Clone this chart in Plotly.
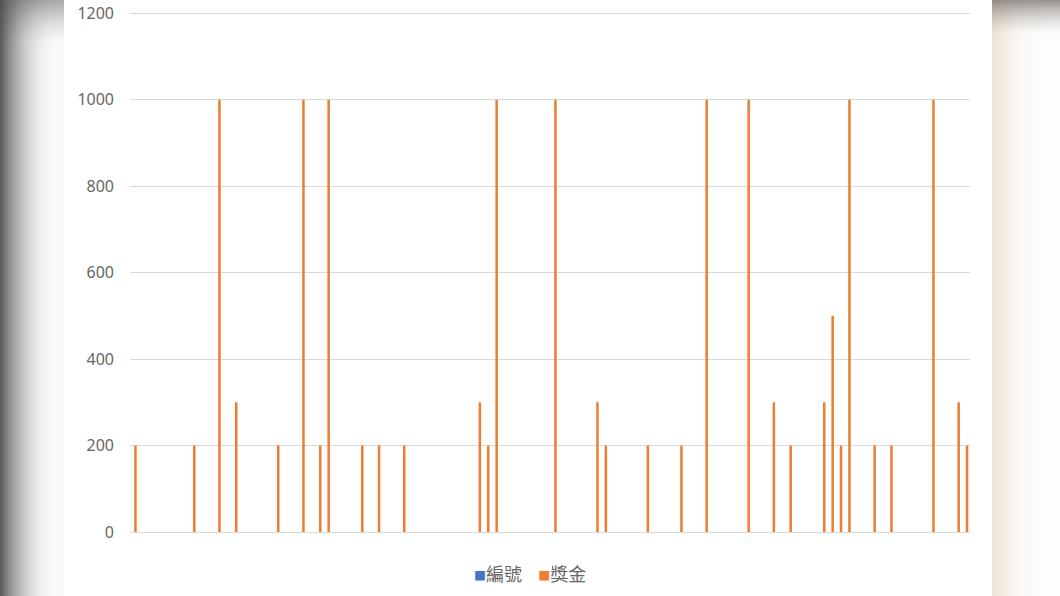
import plotly.graph_objects as go

# 編號 1..100, 獎金 per number (blank = no prize)
numbers = list(range(1, 101))
prize_numbers = [1, 8, 11, 13, 18, 21, 23, 24, 28, 30, 33, 42, 43, 44, 51, 56,
                 57, 62, 66, 69, 74, 77, 79, 83, 84, 85, 86, 89, 91, 96, 99, 100]
prize_amounts = [200, 200, 1000, 300, 200, 1000, 200, 1000, 200, 200, 200, 300, 200, 1000, 1000, 300,
                 200, 200, 200, 1000, 1000, 300, 200, 300, 500, 200, 1000, 200, 200, 1000, 300, 200]
y_ticks = [0, 200, 400, 600, 800, 1000, 1200]
series_names = ["編號", "獎金"]
series_colors = ["#4472c4", "#ed7d31"]

prize = dict(zip(prize_numbers, prize_amounts))
bonus = [prize.get(n) for n in numbers]
id_col = [None for n in numbers]

W, H = 1060, 596
# plot area in pixels (top left a bit of headroom so the 1200 grid line is drawn)
L, R, T, B = 130, 970, 12, 532


def px_x(px):
    return (px - L) / (R - L)


def px_y(py):
    return (B - py) / (B - T)


def rect(x0, x1, y0, y1, color):
    return dict(type="rect", xref="paper", yref="paper", layer="below",
                x0=px_x(x0), x1=px_x(x1), y0=px_y(y1), y1=px_y(y0),
                fillcolor=color, line=dict(width=0))


shapes = []
# blurred grey border on the left
for i in range(0, 64, 2):
    t = i / 64
    g = int(95 + (251 - 95) * (1 - (1 - t) ** 2.5))
    shapes.append(rect(i, i + 2, 0, H, f"rgb({g},{g},{g})"))
for j in range(0, 44, 2):
    a = 0.45 * (1 - j / 44) ** 1.5
    shapes.append(rect(0, 64, j, j + 2, f"rgba(70,70,70,{a:.3f})"))
# beige border on the right
for i in range(0, 70, 2):
    t = i / 50 if i < 50 else 1
    f = (1 - t) ** 2
    r = int(254 - (254 - 240) * f)
    g = int(253 - (253 - 226) * f)
    b = int(252 - (252 - 213) * f)
    shapes.append(rect(992 + i, 994 + i, 0, H, f"rgb({r},{g},{b})"))
for j in range(0, 36, 2):
    a = 0.65 * (1 - j / 36) ** 1.6
    shapes.append(rect(992, W, j, j + 2, f"rgba(100,95,90,{a:.3f})"))

fig = go.Figure()
fig.add_trace(go.Bar(x=numbers, y=id_col, name=series_names[0],
                     marker_color=series_colors[0]))
fig.add_trace(go.Bar(x=numbers, y=bonus, name=series_names[1],
                     marker_color=series_colors[1], marker_line_width=0))

# Excel-style legend: small square tight against the label
legend_text = "&nbsp;&nbsp;&nbsp;&nbsp;".join(
    f"<span style='font-size:12px;color:{c}'>■</span>{n}"
    for n, c in zip(series_names, series_colors))

fig.update_layout(
    width=W, height=H,
    margin=dict(l=L, r=W - R, t=T, b=H - B, autoexpand=False),
    paper_bgcolor="white", plot_bgcolor="white",
    barmode="group", bargap=0.4, bargroupgap=0,
    font=dict(family="Noto Sans, Noto Sans CJK TC", color="#666666"),
    shapes=shapes,
    showlegend=False,
    annotations=[dict(text=legend_text, xref="paper", yref="paper",
                      x=px_x(530), y=px_y(573), xanchor="center", yanchor="middle",
                      showarrow=False,
                      font=dict(size=18, family="Noto Sans CJK TC", color="#666666"))],
)
fig.update_xaxes(type="category", showticklabels=False, showgrid=False,
                 showline=False, ticks="", automargin=False)
fig.update_yaxes(range=[0, 1203], tickvals=y_ticks, showgrid=True,
                 gridcolor="#d9d9d9", gridwidth=1, zeroline=True,
                 zerolinecolor="#d9d9d9", zerolinewidth=1, automargin=False,
                 ticklabeloverflow="allow",
                 tickfont=dict(size=16), ticklabelstandoff=15)

# drop the browser's default page margin so the figure fills the window
fig.write_html("out.html", config={"displayModeBar": False},
               post_script="document.body.style.margin='0';")
